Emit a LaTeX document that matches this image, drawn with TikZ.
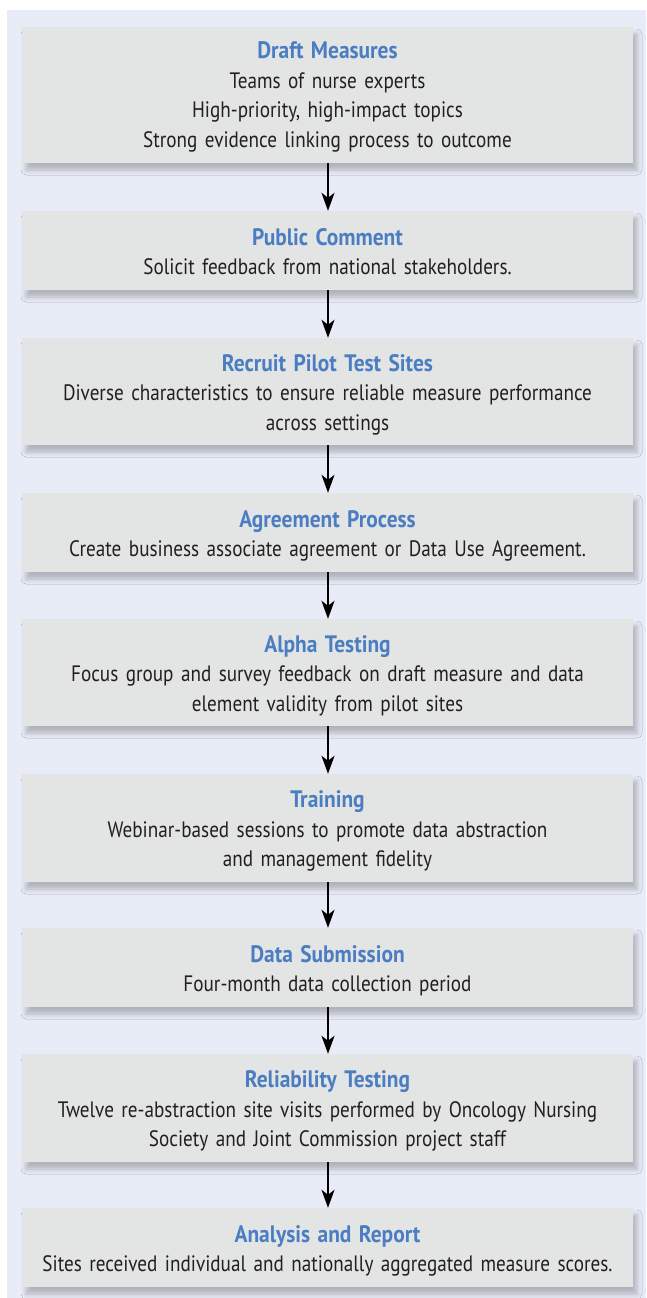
\documentclass[tikz,border=0pt]{standalone}
\usepackage{fontspec}
\setmainfont{PT Sans}[FakeStretch=0.86]
\newfontfamily\titlefont{PT Sans}[FakeStretch=0.9]
\usetikzlibrary{arrows.meta,shadows.blur}
\definecolor{bgblue}{RGB}{232,236,247}
\definecolor{boxgray}{RGB}{227,228,228}
\definecolor{titleblue}{RGB}{74,125,194}
\definecolor{bodytext}{RGB}{35,31,32}
\tikzset{
  stepbox/.style={rectangle, fill=boxgray, draw=none, minimum width=611pt, inner sep=0pt,
    blur shadow={shadow xshift=4pt, shadow yshift=-7pt, shadow blur radius=5pt,
      shadow opacity=24}},
  steptext/.style={anchor=base, text width=605pt, align=center, inner sep=0pt,
    text=bodytext, font=\fontsize{22.3}{29.5}\selectfont},
  flowarrow/.style={-{Stealth[length=18pt,width=13pt,inset=5pt]}, line width=2pt, draw=black}
}
\newcommand{\stitle}[1]{{\color{titleblue}\titlefont\bfseries\fontsize{23.8}{29.5}\selectfont #1}}
\begin{document}
\begin{tikzpicture}[x=1pt,y=-1pt]
\useasboundingbox (0,0) rectangle (646,1298);
\fill[white] (0,0) rectangle (646,1298);
\fill[bgblue] (7,10) rectangle (646,1298);
\node[stepbox, minimum height=136pt] (b1) at (327.5,95) {};
\node[stepbox, minimum height=79pt] (b2) at (327.5,250.5) {};
\node[stepbox, minimum height=107pt] (b3) at (327.5,391.5) {};
\node[stepbox, minimum height=79pt] (b4) at (327.5,532.5) {};
\node[stepbox, minimum height=107pt] (b5) at (327.5,672.5) {};
\node[stepbox, minimum height=108pt] (b6) at (327.5,828) {};
\node[stepbox, minimum height=79pt] (b7) at (327.5,967.5) {};
\node[stepbox, minimum height=108pt] (b8) at (327.5,1108) {};
\node[stepbox, minimum height=79pt] (b9) at (327.5,1247.5) {};
\node[steptext] (t1) at ([yshift=36pt]b1.center) {\stitle{Draft Measures}\\Teams of nurse experts\\High-priority, high-impact topics\\Strong evidence linking process to outcome};
\node[steptext] (t2) at ([yshift=5.5pt]b2.center) {\stitle{Public Comment}\\Solicit feedback from national stakeholders.};
\node[steptext] (t3) at ([yshift=20.3pt]b3.center) {\stitle{Recruit Pilot Test Sites}\\Diverse characteristics to ensure reliable measure performance\\across settings};
\node[steptext] (t4) at ([yshift=5.5pt]b4.center) {\stitle{Agreement Process}\\Create business associate agreement or Data Use Agreement.};
\node[steptext] (t5) at ([yshift=20.3pt]b5.center) {\stitle{Alpha Testing}\\Focus group and survey feedback on draft measure and data\\element validity from pilot sites};
\node[steptext] (t6) at ([yshift=20.3pt]b6.center) {\stitle{Training}\\Webinar-based sessions to promote data abstraction\\and management fidelity};
\node[steptext] (t7) at ([yshift=5.5pt]b7.center) {\stitle{Data Submission}\\Four-month data collection period};
\node[steptext] (t8) at ([yshift=20.3pt]b8.center) {\stitle{Reliability Testing}\\Twelve re-abstraction site visits performed by Oncology Nursing\\Society and Joint Commission project staff};
\node[steptext] (t9) at ([yshift=5.5pt]b9.center) {\stitle{Analysis and Report}\\Sites received individual and nationally aggregated measure scores.};
\foreach \a/\b in {b1/b2,b2/b3,b3/b4,b4/b5,b5/b6,b6/b7,b7/b8,b8/b9}{
  \draw[flowarrow] ([xshift=0.5pt]\a.south) -- ([xshift=0.5pt]\b.north);
}
\end{tikzpicture}
\end{document}
